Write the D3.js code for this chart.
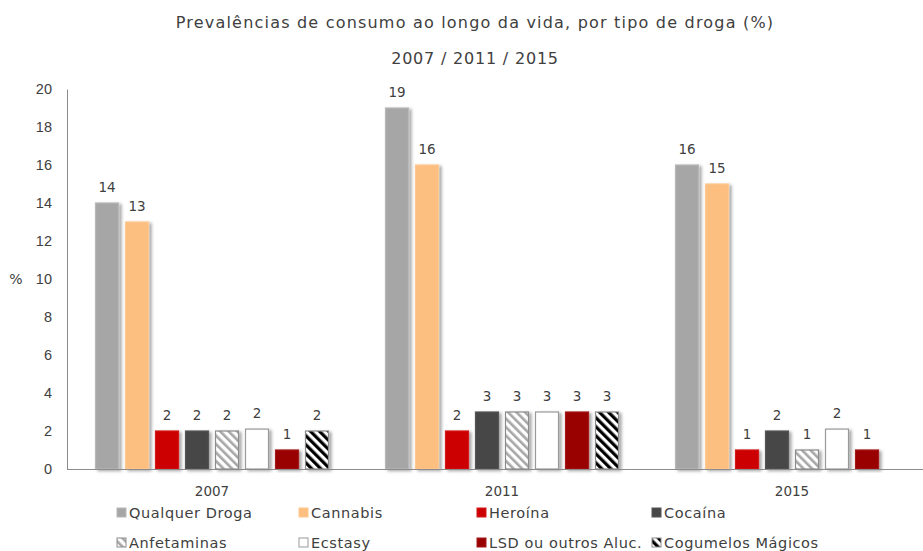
<!DOCTYPE html>
<html>
<head>
<meta charset="utf-8">
<script src="https://cdn.jsdelivr.net/npm/d3@7"></script>
<style>
  body { margin: 0; background: #fff; }
  svg { display: block; font-family: "DejaVu Sans", sans-serif; }
  .tick text { fill: #404040; }
</style>
</head>
<body>
<svg id="chart" width="923" height="551"></svg>
<script>
// data
const years = ["2007", "2011", "2015"];
const drugs = ["Qualquer Droga", "Cannabis", "Heroína", "Cocaína", "Anfetaminas", "Ecstasy", "LSD ou outros Aluc.", "Cogumelos Mágicos"];
const values2007 = [14, 13, 2, 2, 2, 2.1, 1, 2];
const values2011 = [19, 16, 2, 3, 3, 3, 3, 3];
const values2015 = [16, 15, 1, 2, 1, 2.1, 1, null];
const yTicks = [0, 2, 4, 6, 8, 10, 12, 14, 16, 18, 20];

const W = 923, H = 551;
const margin = { top: 89, left: 67, bottom: 82 };
const txt = "#404040";

const svg = d3.select("#chart");
const defs = svg.append("defs");

const shadow = defs.append("filter").attr("id", "shadow")
  .attr("x", "-20%").attr("y", "-20%").attr("width", "160%").attr("height", "140%");
shadow.append("feDropShadow").attr("dx", 2.5).attr("dy", 1.5).attr("stdDeviation", 1.6)
  .attr("flood-color", "#000").attr("flood-opacity", 0.35);

// diagonal hatch patterns ( "\" direction )
function hatch(id, bg, fg, size, lineW) {
  const p = defs.append("pattern").attr("id", id)
    .attr("patternUnits", "userSpaceOnUse").attr("width", size).attr("height", size)
    .attr("patternTransform", "rotate(-45)");
  p.append("rect").attr("width", size).attr("height", size).attr("fill", bg);
  p.append("rect").attr("x", 0).attr("width", lineW).attr("height", size).attr("fill", fg);
}
hatch("hatchGray", "#fff", "#a6a6a6", 6, 2.6);
hatch("hatchBlack", "#fff", "#000", 6.4, 3.2);

const fills = ["#a6a6a6", "#fdbf80", "#cc0000", "#474747", "url(#hatchGray)", "#ffffff", "#990000", "url(#hatchBlack)"];
const strokes = ["#b8b8b8", "#fdc891", "#d21a1a", "#555", "#8c8c8c", "#999", "#a31a1a", "#8c8c8c"];

const rows = [values2007, values2011, values2015];

const y = d3.scaleLinear().domain([0, 20]).range([469, margin.top]);
const x0 = d3.scaleBand().domain(years).range([67, 937]);
const x1 = d3.scaleBand().domain(drugs).range([0, x0.bandwidth()])
  .paddingInner(0.2).paddingOuter(0.933);

// title
svg.append("text").attr("x", 475).attr("y", 28).attr("text-anchor", "middle")
  .attr("fill", txt).style("font-size", "16px").style("letter-spacing", "1.2px")
  .text("Prevalências de consumo ao longo da vida, por tipo de droga (%)");
svg.append("text").attr("x", 475).attr("y", 64).attr("text-anchor", "middle")
  .attr("fill", txt).style("font-size", "16px").style("letter-spacing", "0.8px")
  .text("2007 / 2011 / 2015");

// y axis
const yAxis = svg.append("g").attr("transform", "translate(67,0)")
  .call(d3.axisLeft(y).tickValues(yTicks).tickSize(0).tickPadding(15));
yAxis.select(".domain").attr("stroke", "#8c8c8c");
yAxis.selectAll("text").style("font-size", "14.5px").attr("font-family", null);

svg.append("text").attr("x", 16).attr("y", 279).attr("dy", "0.35em")
  .attr("text-anchor", "middle").attr("fill", txt).style("font-size", "14px").text("%");

// bars
const groups = svg.append("g").selectAll("g").data(years).join("g")
  .attr("transform", d => `translate(${x0(d)},0)`);

groups.each(function (yr, gi) {
  const data = drugs.map((k, i) => ({ k, i, v: rows[gi][i] })).filter(d => d.v != null);
  const g = d3.select(this);
  g.selectAll("rect").data(data).join("rect")
    .attr("x", d => x1(d.k) + 0.5)
    .attr("y", d => y(d.v))
    .attr("width", x1.bandwidth() - 1)
    .attr("height", d => y(0) - y(d.v))
    .attr("fill", d => fills[d.i])
    .attr("stroke", d => strokes[d.i])
    .attr("stroke-width", 1.2)
    .attr("filter", "url(#shadow)");
  g.selectAll("text").data(data).join("text")
    .attr("x", d => x1(d.k) + x1.bandwidth() / 2)
    .attr("y", d => y(d.v) - 11)
    .attr("text-anchor", "middle").attr("fill", txt)
    .style("font-size", "13.5px")
    .text(d => Math.round(d.v));
});

// x axis
svg.append("line").attr("x1", 67).attr("x2", W).attr("y1", 469.5).attr("y2", 469.5)
  .attr("stroke", "#8c8c8c");
svg.append("g").selectAll("text").data(years).join("text")
  .attr("x", d => x0(d) + x0.bandwidth() / 2)
  .attr("y", 496).attr("text-anchor", "middle").attr("fill", txt)
  .style("font-size", "13.5px").text(d => d);

// legend
const legX = [117, 299, 477, 652];
const legY = [513, 543];
const leg = svg.append("g").selectAll("g").data(drugs).join("g")
  .attr("transform", (d, i) => `translate(${legX[i % 4]},${legY[Math.floor(i / 4)]})`);
leg.append("rect").attr("x", 0).attr("y", -5).attr("width", 9).attr("height", 9)
  .attr("fill", (d, i) => fills[i]).attr("stroke", (d, i) => strokes[i]).attr("stroke-width", 1);
leg.append("text").attr("x", 12).attr("y", 0).attr("dy", "0.35em")
  .attr("fill", txt).style("font-size", "14.5px").style("letter-spacing", "0.6px").text(d => d);
</script>
</body>
</html>
